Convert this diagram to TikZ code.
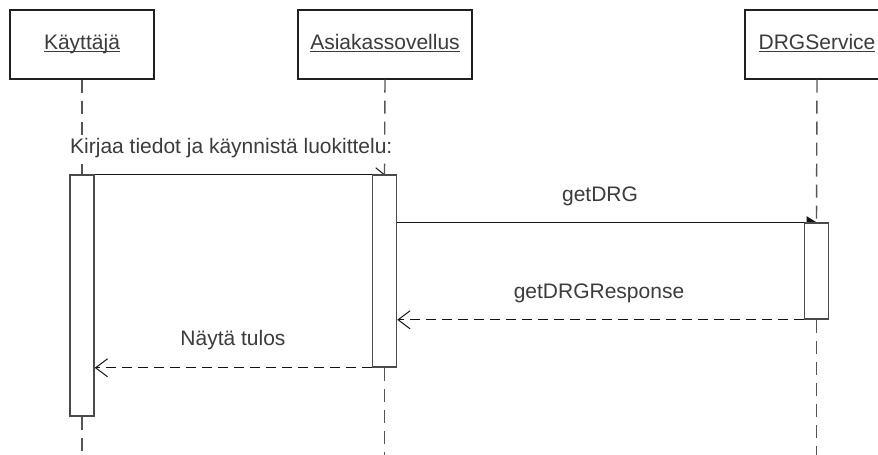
\documentclass[tikz,border=0pt]{standalone}
\usepackage{fontspec}
\setmainfont{Liberation Sans}
\usetikzlibrary{arrows.meta}
\definecolor{txt}{HTML}{3C3C3C}
\definecolor{boxc}{HTML}{202020}
\definecolor{barc}{HTML}{4A4A4A}
\definecolor{lifec}{HTML}{555555}
\definecolor{msgc}{HTML}{151515}
% underlined object name, rule set close to the baseline
\newcommand\objname[1]{\setbox0\hbox{#1}\rlap{\rule[-2.5pt]{\wd0}{0.9pt}}\box0}
\begin{document}
\begin{tikzpicture}[x=1pt,y=-1pt,
  every node/.style={font=\fontsize{21}{25}\selectfont, text=txt},
  obj/.style={draw=boxc, line width=1.3pt, fill=white, minimum width=144pt,
    minimum height=69pt, inner sep=0pt, text height=15pt, text depth=5pt},
  actbar/.style={draw=barc, line width=1.5pt, fill=white, minimum width=24pt, inner sep=0pt},
  life/.style={draw=lifec, line width=1.4pt, dash pattern=on 13pt off 8pt},
  callbarb/.style={draw=msgc, line width=1pt, -{Straight Barb[length=8pt,width=13pt]}},
  callfill/.style={draw=msgc, line width=1pt, -{Triangle[length=10pt,width=12pt]}},
  reply/.style={draw=msgc, line width=1pt, dash pattern=on 10pt off 6pt,
    -{Straight Barb[length=12pt,width=18pt]}},
  lbl/.style={inner sep=2pt, fill=white}]
\useasboundingbox (0,0) rectangle (878,455);
\clip (0,0) rectangle (878,455);
\fill[white] (0,0) rectangle (878,455);

% objects
\node[obj] (user) at (82,44.5) {\objname{Käyttäjä}};
\node[obj, minimum width=174pt] (app) at (385,44.5) {\objname{Asiakassovellus}};
\node[obj] (drg) at (817,44.5) {\objname{DRGService}};

% activation bar positions and lifeline ends
\path (82,295.5) coordinate (ubarpos)
      (384.5,271) coordinate (abarpos)
      (816.5,271) coordinate (dbarpos);
\coordinate (uend) at (82,460);
\coordinate (aend) at (384.5,460);
\coordinate (dend) at (816.5,460);

% invisible bar outlines used as anchors
\node[actbar, minimum height=241pt, draw=none, fill=none] (ubar) at (ubarpos) {};
\node[actbar, minimum height=192pt, draw=none, fill=none] (abar) at (abarpos) {};
\node[actbar, minimum height=96pt, draw=none, fill=none] (dbar) at (dbarpos) {};

% lifelines
\draw[life] (user.south) -- (ubar.north);
\draw[life] (ubar.south) -- (uend);
\draw[life] (app.south) -- (abar.north);
\draw[life] (abar.south) -- (aend);
\draw[life] (drg.south) -- (dbar.north);
\draw[life] (dbar.south) -- (dend);

% synchronous calls end on the lifeline, partly hidden by the bars
\draw[callbarb] (ubar.north east) -- (ubar.north east -| abar.center);
\draw[callfill] (abar.east |- dbar.north) -- (dbar.north);

% activation bars
\node[actbar, minimum height=241pt] at (ubarpos) {};
\node[actbar, minimum height=192pt] at (abarpos) {};
\node[actbar, minimum height=96pt] at (dbarpos) {};

% replies
\draw[reply] (dbar.south west) -- (dbar.south west -| abar.east);
\draw[reply] (abar.south west) -- (abar.south west -| ubar.east);

% message labels
\node[lbl, anchor=base west] (l1) at (68,153) {Kirjaa tiedot ja käynnistä luokittelu:};
\node[lbl, anchor=base] (l2) at (600,201) {getDRG};
\node[lbl, anchor=base] (l3) at (599,298) {getDRGResponse};
\node[lbl, anchor=base] (l4) at (233,345) {Näytä tulos};
\end{tikzpicture}
\end{document}
